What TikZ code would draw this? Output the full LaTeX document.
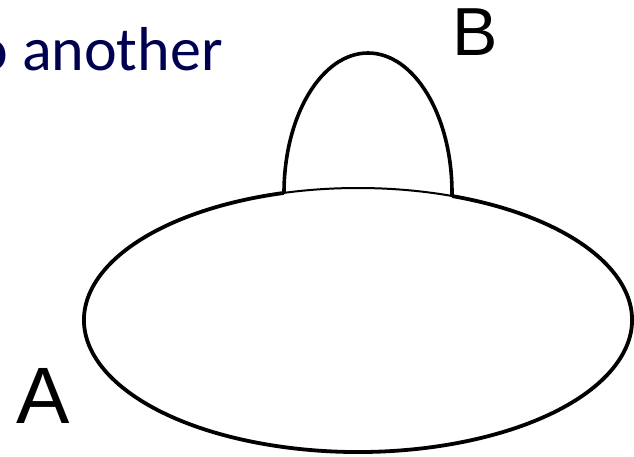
\documentclass[tikz,border=0pt]{standalone}
\usepackage{fontspec}
\setmainfont{Liberation Sans}
\newfontfamily\captionfont{Carlito}
\definecolor{captionblue}{RGB}{0,0,80}
\begin{document}
\begin{tikzpicture}[x=1pt, y=-1pt]
  \useasboundingbox (0,0) rectangle (634,456);
  \coordinate (c) at (358,320);
  \coordinate (l) at (284,193);

  % thin chord under the dome, thick rim elsewhere
  \draw[line width=2pt] (c) ellipse[x radius=274, y radius=132];
  \draw[line width=3.8pt] ([shift={(-69.9:274 and 132)}]c)
    arc[start angle=-69.9, end angle=254.3, x radius=274, y radius=132];
  \draw[line width=3.6pt] (l) -- ++(0,0)
    arc[start angle=180, end angle=360, x radius=84, y radius=140] -- ++(0,3);

  \node[anchor=base east, inner sep=0, text=captionblue, font=\captionfont\fontsize{62}{62}\selectfont] (caption) at (223,70) {o another};
  \node[anchor=base west, inner sep=0, font=\fontsize{80}{80}\selectfont] (A) at (16,423) {A};
  \node[anchor=base west, inner sep=0, font=\fontsize{68}{68}\selectfont] (B) at (452,55) {B};
\end{tikzpicture}
\end{document}
